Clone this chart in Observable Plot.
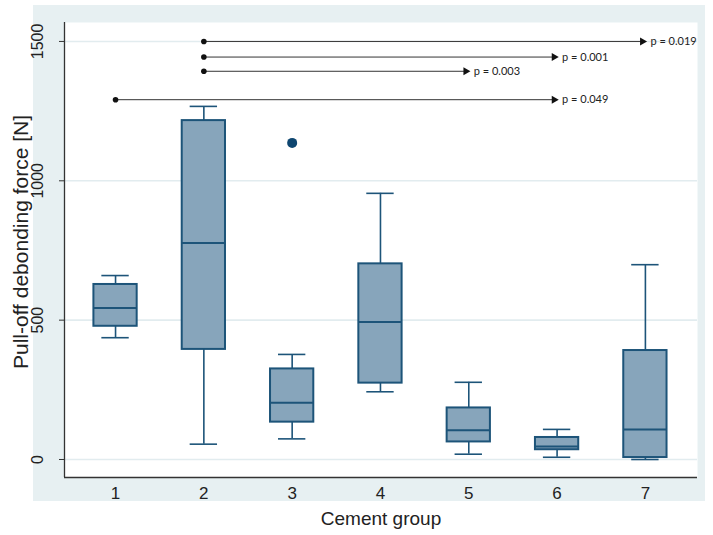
<!DOCTYPE html>
<html><head><meta charset="utf-8">
<script src="https://cdn.jsdelivr.net/npm/d3@7"></script>
<script src="https://cdn.jsdelivr.net/npm/@observablehq/plot@0.6"></script>
<style>
html,body{margin:0;padding:0;background:#fff;}
#wrap{position:relative;width:713px;height:535px;}
#bg{position:absolute;left:33px;top:5px;width:672px;height:496px;background:#e7f0f2;}
#chart{position:absolute;left:0;top:0;}
</style></head><body>
<div id="wrap"><div id="bg"></div><div id="chart"></div></div>
<script>
// Cement groups and box-plot statistics (N)
const groups = [1, 2, 3, 4, 5, 6, 7];
const lowerWhisker = [437, 55, 74, 243, 19, 8, 0];
const q1 = [478, 395, 134, 274, 63, 35, 7];
const median = [544, 777, 204, 493, 105, 47, 108];
const q3 = [628, 1216, 325, 702, 185, 79, 391];
const upperWhisker = [660, 1267, 377, 955, 277, 108, 699];
const outlierGroups = [3];
const outlierValues = [1136];
// pairwise comparisons
const compFrom = [2, 2, 2, 1];
const compTo = [7, 6, 5, 6];
const compLevel = [1500, 1444, 1393, 1291];
const compLabels = ["p = 0.019", "p = 0.001", "p = 0.003", "p = 0.049"];
const yTicks = [0, 500, 1000, 1500];
const xTitle = "Cement group";
const yTitle = "Pull-off debonding force [N]";

const boxes = groups.map((g, i) => ({g, lo: lowerWhisker[i], q1: q1[i], med: median[i], q3: q3[i], hi: upperWhisker[i]}));
const outliers = outlierGroups.map((g, i) => ({g, v: outlierValues[i]}));
const comps = compFrom.map((f, i) => ({from: f, to: compTo[i], y: compLevel[i], label: compLabels[i]}));

const halfBox = 0.245, halfCap = 0.155;
const xDomain = [0.422, 7.59], yDomain = [-64.6, 1568];
const boxStroke = "#1d5479", boxFill = "#87a5bb";

const chart = Plot.plot({
  width: 713, height: 535,
  marginLeft: 64, marginRight: 16, marginTop: 22, marginBottom: 58,
  style: {background: "transparent", fontFamily: "'Liberation Sans', Arial, sans-serif", color: "#222"},
  x: {domain: xDomain, axis: null},
  y: {domain: yDomain, axis: null},
  marks: [
    Plot.frame({fill: "white", stroke: null}),
    Plot.ruleY(yTicks, {stroke: "#e2ecef", strokeWidth: 1.6}),
    Plot.ruleX(boxes, {x: "g", y1: "q3", y2: "hi", stroke: boxStroke, strokeWidth: 1.6}),
    Plot.ruleX(boxes, {x: "g", y1: "lo", y2: "q1", stroke: boxStroke, strokeWidth: 1.6}),
    Plot.ruleY(boxes, {y: "hi", x1: d => d.g - halfCap, x2: d => d.g + halfCap, stroke: boxStroke, strokeWidth: 1.6}),
    Plot.ruleY(boxes, {y: "lo", x1: d => d.g - halfCap, x2: d => d.g + halfCap, stroke: boxStroke, strokeWidth: 1.6}),
    Plot.rect(boxes, {x1: d => d.g - halfBox, x2: d => d.g + halfBox, y1: "q1", y2: "q3", fill: boxFill, stroke: boxStroke, strokeWidth: 2}),
    Plot.ruleY(boxes, {y: "med", x1: d => d.g - halfBox, x2: d => d.g + halfBox, stroke: boxStroke, strokeWidth: 2}),
    Plot.dot(outliers, {x: "g", y: "v", r: 5, fill: "#0e4670", stroke: null}),
    Plot.ruleY(comps, {y: "y", x1: "from", x2: "to", stroke: "#333", strokeWidth: 1}),
    Plot.dot(comps, {x: "from", y: "y", r: 2.8, fill: "#111", stroke: null}),
    Plot.dot(comps, {x: "to", y: "y", symbol: "triangle", rotate: 90, r: 3, fill: "#111", stroke: null, dx: -3}),
    Plot.text(comps, {x: "to", y: "y", text: "label", textAnchor: "start", dx: 5, fontSize: 11, fontFamily: "Lato, 'Open Sans', sans-serif", fill: "#222"}),
    Plot.ruleX([xDomain[0]], {stroke: "#333", strokeWidth: 1.3}),
    Plot.ruleY([yDomain[0]], {stroke: "#333", strokeWidth: 1.3}),
    Plot.axisY({ticks: yTicks, tickFormat: d => String(d), tickSize: 5, tickRotate: -90, tickPadding: 17, fontSize: 16, label: null, stroke: "#333"}),
    Plot.axisX({ticks: groups, tickFormat: d => String(d), tickSize: 0, tickPadding: 9, fontSize: 17, label: null}),
    Plot.text([yTitle], {text: d => d, frameAnchor: "left", textAnchor: "middle", lineAnchor: "middle", dx: -43, dy: -8, rotate: -90, fontSize: 21, fill: "#222"}),
    Plot.text([xTitle], {text: d => d, frameAnchor: "bottom", textAnchor: "middle", dy: 47, fontSize: 19, fill: "#222"})
  ]
});
document.getElementById("chart").appendChild(chart);
</script>
</body></html>
